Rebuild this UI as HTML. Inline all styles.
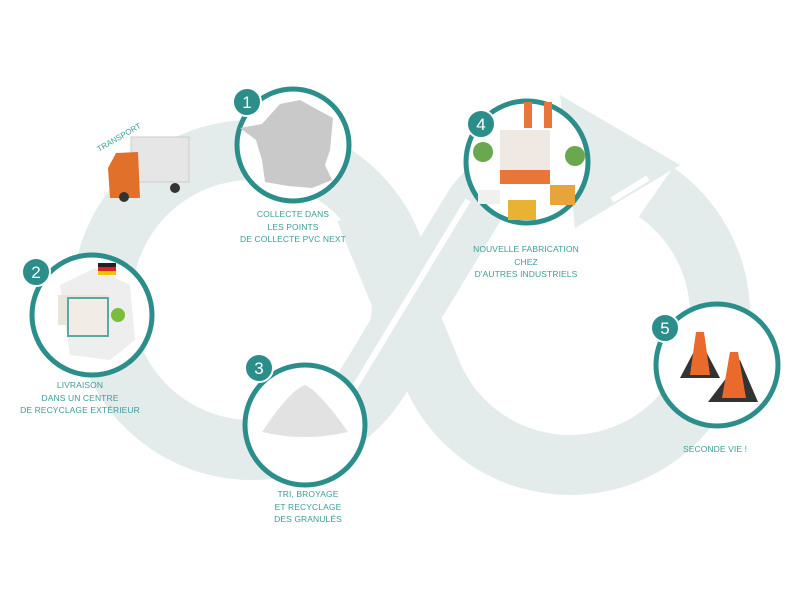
<!DOCTYPE html>
<html><head><meta charset="utf-8"><style>
html,body{margin:0;padding:0;background:#fff;}
body{width:805px;height:600px;overflow:hidden;position:relative;font-family:"Liberation Sans",sans-serif;}
.l{position:absolute;color:#3c9c99;font-size:8.5px;text-align:center;line-height:12.5px;letter-spacing:0.1px;}
</style></head><body>
<svg width="805" height="600" style="position:absolute;left:0;top:0">
<g fill="none" stroke="#e3ecea" stroke-width="60">
<circle cx="252" cy="300" r="150"/>
<path d="M656 192 A150 150 0 1 1 429 366 L365 210"/>
</g>
<path d="M345 420 L475 205 Q505 165 570 162" fill="none" stroke="#e3ecea" stroke-width="60"/>
<polygon points="560,95 680,165 575,228" fill="#e3ecea"/>
<path d="M330 428 L468 200" stroke="#fff" stroke-width="6"/>
<path d="M612 200 L648 178" stroke="#fff" stroke-width="6"/>
<!-- circles -->
<g fill="#fff" stroke="#2b8e8b" stroke-width="5">
<circle cx="293" cy="145" r="56"/>
<circle cx="92" cy="315" r="60"/>
<circle cx="305" cy="425" r="60"/>
<circle cx="527" cy="162" r="61"/>
<circle cx="717" cy="365" r="61"/>
</g>
<!-- France map -->
<path d="M262 124 L280 104 L300 100 L318 110 L333 118 L330 150 L325 165 L332 180 L312 188 L288 186 L265 182 L262 160 L256 140 L240 128 Z" fill="#c9c9c9"/>
<!-- Germany/factory -->
<path d="M60 285 L95 268 L130 285 L135 340 L110 360 L70 355 Z" fill="#eeeeee"/>
<rect x="58" y="295" width="50" height="30" fill="#e9e4dc"/>
<rect x="68" y="298" width="40" height="38" fill="#f1ede6" stroke="#5aa9a5" stroke-width="2"/>
<circle cx="118" cy="315" r="7" fill="#7cbc3c"/>
<rect x="98" y="263" width="18" height="4" fill="#222"/><rect x="98" y="267" width="18" height="4" fill="#d22"/><rect x="98" y="271" width="18" height="4" fill="#f4c400"/>
<!-- granules -->
<path d="M262 432 Q290 390 305 385 Q320 392 348 432 Q305 442 262 432Z" fill="#e2e2e2"/>
<!-- factory 4 -->
<rect x="500" y="130" width="50" height="50" fill="#efe9e3"/>
<rect x="500" y="170" width="50" height="14" fill="#e8763a"/>
<rect x="524" y="102" width="8" height="26" fill="#e8763a"/><rect x="544" y="102" width="8" height="26" fill="#e8763a"/>
<circle cx="483" cy="152" r="10" fill="#6aa84f"/><circle cx="575" cy="156" r="10" fill="#6aa84f"/>
<rect x="508" y="200" width="28" height="20" fill="#e8b232"/>
<rect x="478" y="190" width="22" height="14" fill="#f0f0f0"/>
<rect x="550" y="185" width="25" height="20" fill="#e8a43a"/>
<!-- cones -->
<polygon points="680,378 720,378 700,340" fill="#333"/>
<polygon points="690,375 710,375 704,332 696,332" fill="#e96a2a"/>
<polygon points="708,402 758,402 740,360" fill="#333"/>
<polygon points="722,398 746,398 738,352 730,352" fill="#e96a2a"/>
<!-- truck -->
<rect x="131" y="137" width="58" height="45" fill="#e6e6e6" stroke="#ccc"/>
<path d="M108 168 L116 153 L138 152 L140 198 L110 198 Z" fill="#e0702a"/>
<circle cx="124" cy="197" r="5" fill="#333"/><circle cx="175" cy="188" r="5" fill="#333"/>
<!-- badges -->
<g fill="#2b8e8b" stroke="#fff" stroke-width="2">
<circle cx="247" cy="102" r="14"/>
<circle cx="36" cy="272" r="14"/>
<circle cx="259" cy="368" r="14"/>
<circle cx="481" cy="124" r="14"/>
<circle cx="665" cy="328" r="14"/>
</g>
<g fill="#fff" font-family="Liberation Sans,sans-serif" font-size="17" text-anchor="middle">
<text x="247" y="108">1</text><text x="36" y="278">2</text><text x="259" y="374">3</text><text x="481" y="130">4</text><text x="665" y="334">5</text>
</g>
<text x="99" y="152" fill="#3c9c99" font-size="8" font-family="Liberation Sans,sans-serif" transform="rotate(-30 99 152)">TRANSPORT</text>
</svg>
<div class="l" style="left:233px;top:208px;width:120px">COLLECTE DANS<br>LES POINTS<br>DE COLLECTE PVC NEXT</div>
<div class="l" style="left:20px;top:379px;width:120px">LIVRAISON<br>DANS UN CENTRE<br>DE RECYCLAGE EXTÉRIEUR</div>
<div class="l" style="left:248px;top:488px;width:120px">TRI, BROYAGE<br>ET RECYCLAGE<br>DES GRANULÉS</div>
<div class="l" style="left:466px;top:243px;width:120px">NOUVELLE FABRICATION<br>CHEZ<br>D'AUTRES INDUSTRIELS</div>
<div class="l" style="left:655px;top:443px;width:120px">SECONDE VIE !</div>
</body></html>
